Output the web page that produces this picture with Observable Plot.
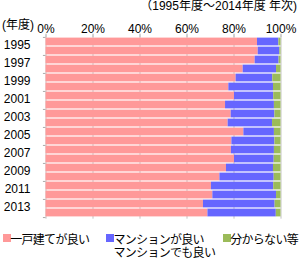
<!DOCTYPE html>
<html><head><meta charset="utf-8">
<script src="https://cdn.jsdelivr.net/npm/d3@7"></script>
<script src="https://cdn.jsdelivr.net/npm/@observablehq/plot@0.6"></script>
<style>
body{margin:0;background:#fff;}
#wrap{position:relative;width:300px;height:259px;font-family:"Liberation Sans","Noto Sans CJK JP",sans-serif;font-size:12px;color:#000;background:#fff;overflow:hidden}
#chart{position:absolute;left:0;top:0}
.t{position:absolute;white-space:nowrap;line-height:14px}
.lg{position:absolute;white-space:pre;line-height:13px;font-family:"Noto Sans CJK JP",sans-serif;letter-spacing:-0.7px}
.sw{position:absolute;width:8px;height:8px}
</style></head><body>
<div id="wrap">
<div class="t" id="title" style="right:3px;top:-1px"></div>
<div class="t" id="ylab" style="left:2px;top:18px"></div>
<div id="chart"></div>
<div id="legend"></div>
</div>
<script>
(function(){
const titleText = "（1995年度～2014年度 年次)";
const yAxisLabel = "(年度)";
const years = [1995,1996,1997,1998,1999,2000,2001,2002,2003,2004,2005,2006,2007,2008,2009,2010,2011,2012,2013,2014];
const labelYears = [1995,1997,1999,2001,2003,2005,2007,2009,2011,2013];
const xTicks = [0,20,40,60,80,100];
const seriesNames = ["一戸建てが良い","マンションが良い\nマンションでも良い","分からない等"];
const seriesColors = ["#ff9999","#6666ff","#9bbb59"];
const detached = [90.0,90.3,89.0,83.9,80.9,77.8,80.2,76.4,78.8,77.5,84.2,79.1,78.9,80.2,76.8,74.0,70.4,71.0,67.0,68.9];
const condo    = [9.1,9.2,10.2,14.2,15.6,19.0,16.7,20.8,18.6,18.9,13.0,18.3,18.3,16.9,20.0,23.1,26.5,27.1,30.5,29.1];
const unknown  = [0.9,0.5,0.8,1.9,3.5,3.2,3.1,2.8,2.6,3.6,2.8,2.6,2.8,2.9,3.2,2.9,3.1,1.9,2.5,2.0];

document.getElementById("title").textContent = titleText;
document.getElementById("ylab").textContent = yAxisLabel;

const seriesValues = [detached, condo, unknown];
const rows = years.flatMap((y, i) => seriesNames.map((s, k) => ({year: y, series: s, value: seriesValues[k][i]})));

const H = 226, plotTop = 35.7, plotBottom = 218.7;
const bw = (plotBottom - plotTop) / years.length;
const lastYear = years[years.length - 1];

const plot = Plot.plot({
  width: 300, height: H,
  marginTop: plotTop, marginBottom: H - plotBottom, marginLeft: 45.5, marginRight: 19.5,
  x: {domain: [0, 100], axis: null, label: null},
  y: {type: "band", domain: years, padding: 0, axis: null},
  color: {domain: seriesNames, range: seriesColors},
  style: {fontFamily: '"Liberation Sans","Noto Sans CJK JP",sans-serif', fontSize: "12px", background: "transparent", color: "#000"},
  marks: [
    Plot.gridX(xTicks, {stroke: "#c4c4c4", strokeOpacity: 1}),
    Plot.axisX(xTicks, {anchor: "top", label: null, tickFormat: d => d + "%", tickSize: 3, tickPadding: 0.6, stroke: "#aaa", fontSize: 12}),
    Plot.barX(rows, {y: "year", x: "value", fill: "series", insetTop: 0.6, insetBottom: 0.6}),
    Plot.ruleY(labelYears, {y: d => d, x1: -1.1, x2: 0, dy: -bw / 2, stroke: "#aaa"}),
    Plot.ruleY([lastYear], {y: d => d, x1: -1.1, x2: 0, dy: bw / 2, stroke: "#aaa"}),
    Plot.text(labelYears, {y: d => d, text: d => String(d), frameAnchor: "left", textAnchor: "end", dx: -15.5, dy: 3.5, fill: "#000", fontSize: 12})
  ]
});
document.getElementById("chart").appendChild(plot);

const legendPos = [{x: 2.7, y: 234}, {x: 106, y: 234}, {x: 222.7, y: 234}];
const lg = document.getElementById("legend");
seriesNames.forEach((s, k) => {
  const sw = document.createElement("div");
  sw.className = "sw";
  sw.style.left = legendPos[k].x + "px";
  sw.style.top = legendPos[k].y + "px";
  sw.style.background = seriesColors[k];
  lg.appendChild(sw);
  const t = document.createElement("div");
  t.className = "lg";
  t.textContent = s;
  t.style.left = (legendPos[k].x + 7.5) + "px";
  t.style.top = (legendPos[k].y - 2.5) + "px";
  lg.appendChild(t);
});
})();
</script>
</body></html>
